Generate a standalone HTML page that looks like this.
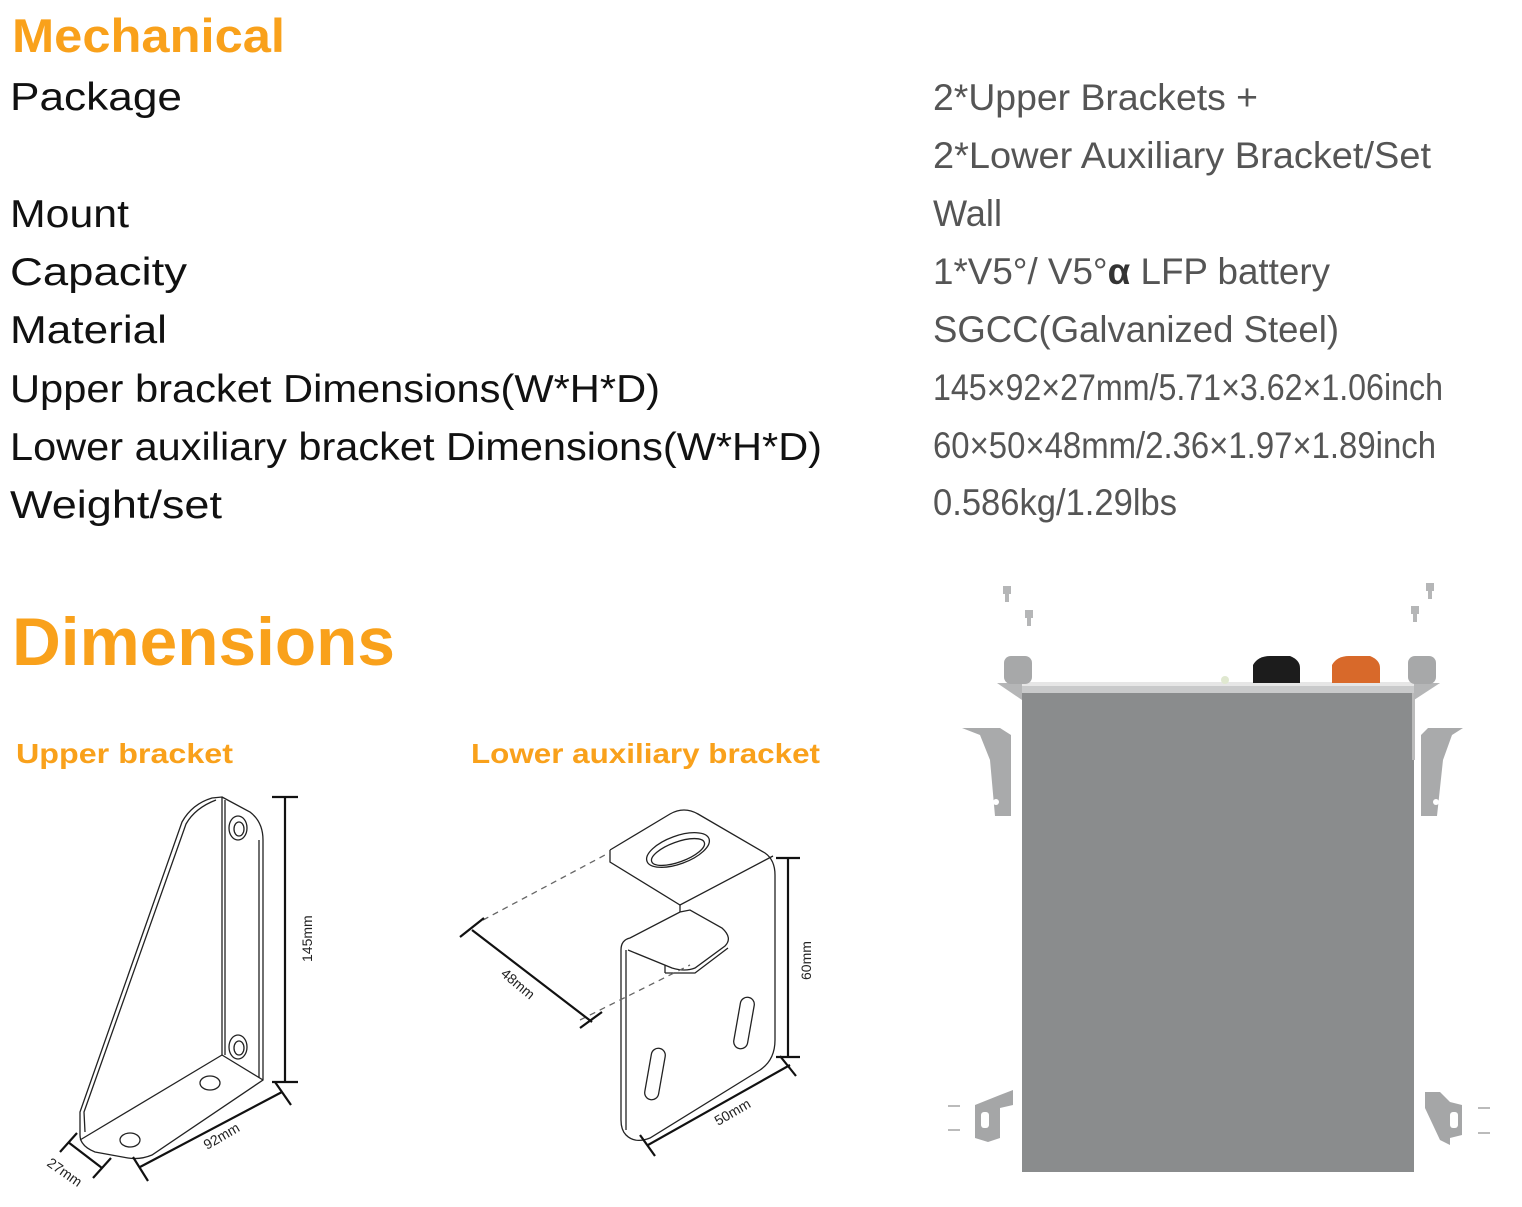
<!DOCTYPE html>
<html><head><meta charset="utf-8"><style>
html,body{margin:0;padding:0;background:#fff;width:1522px;height:1207px;overflow:hidden}
svg{display:block}
.o{fill:#F9A11B;font-family:"Liberation Sans",sans-serif;font-weight:bold}
.l{fill:#111;font-family:"Liberation Sans",sans-serif;font-size:39px}
.v{fill:#555;font-family:"Liberation Sans",sans-serif;font-size:37px}
.d{fill:#222;font-family:"Liberation Sans",sans-serif;font-size:14px}
.ln{fill:none;stroke:#222;stroke-width:1.3}
.dm{fill:none;stroke:#111;stroke-width:2.2}
</style></head><body>
<svg width="1522" height="1207" viewBox="0 0 1522 1207" xmlns="http://www.w3.org/2000/svg">
<text class="o" x="12" y="52" font-size="47" textLength="273" lengthAdjust="spacingAndGlyphs">Mechanical</text>
<text class="l" x="10" y="110" textLength="172" lengthAdjust="spacingAndGlyphs">Package</text>
<text class="l" x="10" y="227" textLength="119" lengthAdjust="spacingAndGlyphs">Mount</text>
<text class="l" x="10" y="285" textLength="177" lengthAdjust="spacingAndGlyphs">Capacity</text>
<text class="l" x="10" y="343" textLength="157" lengthAdjust="spacingAndGlyphs">Material</text>
<text class="l" x="10" y="402" textLength="650" lengthAdjust="spacingAndGlyphs">Upper bracket Dimensions(W*H*D)</text>
<text class="l" x="10" y="460" textLength="812" lengthAdjust="spacingAndGlyphs">Lower auxiliary bracket Dimensions(W*H*D)</text>
<text class="l" x="10" y="518" textLength="212" lengthAdjust="spacingAndGlyphs">Weight/set</text>

<text class="v" x="933" y="110" textLength="325" lengthAdjust="spacingAndGlyphs">2*Upper Brackets +</text>
<text class="v" x="933" y="168" textLength="498" lengthAdjust="spacingAndGlyphs">2*Lower Auxiliary Bracket/Set</text>
<text class="v" x="933" y="226" textLength="69" lengthAdjust="spacingAndGlyphs">Wall</text>
<text class="v" x="933" y="284" textLength="397" lengthAdjust="spacingAndGlyphs">1*V5°/ V5°<tspan font-weight="bold" fill="#333">α</tspan> LFP battery</text>
<text class="v" x="933" y="342" textLength="406" lengthAdjust="spacingAndGlyphs">SGCC(Galvanized Steel)</text>
<text class="v" x="933" y="400" textLength="510" lengthAdjust="spacingAndGlyphs">145×92×27mm/5.71×3.62×1.06inch</text>
<text class="v" x="933" y="458" textLength="503" lengthAdjust="spacingAndGlyphs">60×50×48mm/2.36×1.97×1.89inch</text>
<text class="v" x="933" y="515" textLength="244" lengthAdjust="spacingAndGlyphs">0.586kg/1.29lbs</text>

<text class="o" x="12" y="665" font-size="68" textLength="383" lengthAdjust="spacingAndGlyphs">Dimensions</text>
<text class="o" x="16" y="763" font-size="28" textLength="217" lengthAdjust="spacingAndGlyphs">Upper bracket</text>
<text class="o" x="471" y="763" font-size="28" textLength="349" lengthAdjust="spacingAndGlyphs">Lower auxiliary bracket</text>

<!-- Upper bracket -->
<g class="ln">
<path d="M222,797 L250,812 Q263,822 263,840 L263,1080 L152,1155 Q140,1160 128,1158 L95,1152 Q80,1146 80,1135 L80,1112 L182,822 Q192,804 212,798 Z"/>
<path d="M85,1132 L84,1112 L186,824 Q195,808 216,800"/>
<line x1="222" y1="797" x2="222" y2="1055"/>
<line x1="225" y1="800" x2="225" y2="1055"/>
<line x1="222" y1="1055" x2="80" y2="1140"/>
<line x1="222" y1="1055" x2="263" y2="1080"/>
<line x1="259" y1="840" x2="259" y2="1078"/>
<ellipse cx="238" cy="828" rx="9" ry="12"/><ellipse cx="239" cy="829" rx="5" ry="7"/>
<ellipse cx="238" cy="1047" rx="9" ry="12"/><ellipse cx="239" cy="1048" rx="5" ry="7"/>
<ellipse cx="210" cy="1083" rx="10" ry="7"/>
<ellipse cx="130" cy="1140" rx="10" ry="7"/>
</g>
<g class="dm">
<line x1="285" y1="797" x2="285" y2="1082"/><line x1="272" y1="797" x2="298" y2="797"/><line x1="272" y1="1082" x2="298" y2="1082"/>
<line x1="140" y1="1167" x2="282" y2="1092"/><line x1="133" y1="1157" x2="148" y2="1181"/><line x1="275" y1="1082" x2="291" y2="1105"/>
<line x1="68" y1="1142" x2="102" y2="1168"/><line x1="60" y1="1152" x2="77" y2="1133"/><line x1="93" y1="1178" x2="111" y2="1158"/>
</g>
<text class="d" transform="translate(312,962) rotate(-90)">145mm</text>
<text class="d" transform="translate(207,1150) rotate(-30)">92mm</text>
<text class="d" transform="translate(46,1165) rotate(35)">27mm</text>

<!-- Lower auxiliary bracket -->
<g class="ln">
<path d="M610,850 L670,814 Q684,806 698,814 L765,853 Q775,860 775,875 L775,1040 Q775,1060 760,1070 L650,1138 Q635,1144 626,1135 Q621,1130 621,1120 L621,950 Q621,940 630,938 L680,912 L690,910 L722,928 Q733,938 725,946 L695,968 Q685,972 672,968 L628,950"/>
<path d="M610,850 L610,862 L680,905 L773,856"/>
<line x1="680" y1="905" x2="680" y2="912"/>
<line x1="626" y1="950" x2="626" y2="1130"/>
<line x1="665" y1="965" x2="665" y2="973"/>
<path d="M665,973 L695,973 L728,948"/>
<ellipse cx="678" cy="850" rx="33" ry="14" transform="rotate(-20 678 850)"/>
<ellipse cx="678" cy="852" rx="28" ry="10" transform="rotate(-20 678 852)"/>
<rect x="737" y="997" width="14" height="52" rx="7" transform="rotate(10 744 1023)"/>
<rect x="648" y="1048" width="14" height="52" rx="7" transform="rotate(10 655 1074)"/>
</g>
<g stroke="#666" stroke-width="1.3" stroke-dasharray="6,5" fill="none">
<line x1="483" y1="920" x2="605" y2="855"/>
<line x1="580" y1="1020" x2="690" y2="965"/>
</g>
<g class="dm">
<line x1="472" y1="930" x2="592" y2="1022"/><line x1="460" y1="937" x2="484" y2="918"/><line x1="580" y1="1028" x2="602" y2="1012"/>
<line x1="788" y1="858" x2="788" y2="1057"/><line x1="776" y1="858" x2="800" y2="858"/><line x1="776" y1="1057" x2="800" y2="1057"/>
<line x1="648" y1="1145" x2="790" y2="1065"/><line x1="640" y1="1135" x2="655" y2="1156"/><line x1="780" y1="1056" x2="796" y2="1076"/>
</g>
<text class="d" transform="translate(500,975) rotate(40)">48mm</text>
<text class="d" transform="translate(811,980) rotate(-90)">60mm</text>
<text class="d" transform="translate(718,1126) rotate(-30)">50mm</text>

<!-- Battery -->
<rect x="1022" y="690" width="392" height="482" fill="#8a8c8d"/>
<rect x="1412" y="690" width="3" height="70" fill="#bbb"/>
<polygon points="1000,683 1440,683 1418,693 1022,693" fill="#c9cacb"/>
<rect x="1022" y="682" width="392" height="4" fill="#e6e6e6"/>
<polygon points="997,683 1022,683 1022,700" fill="#b5b6b7"/>
<polygon points="1440,683 1414,683 1414,700" fill="#b5b6b7"/>
<rect x="1004" y="656" width="28" height="28" rx="7" fill="#a7a8a9"/>
<rect x="1408" y="656" width="28" height="28" rx="7" fill="#a7a8a9"/>
<path d="M1253,683 L1253,665 Q1258,656 1270,656 L1290,656 Q1300,660 1300,668 L1300,683 Z" fill="#1c1c1c"/>
<path d="M1332,683 L1332,665 Q1337,656 1349,656 L1370,656 Q1380,660 1380,668 L1380,683 Z" fill="#d8692a"/>
<circle cx="1225" cy="680" r="4" fill="#e0e8d0"/>
<!-- screws -->
<g fill="#b5b6b7">
<rect x="1003" y="586" width="8" height="8"/><rect x="1005" y="594" width="4" height="8"/>
<rect x="1025" y="610" width="8" height="8"/><rect x="1027" y="618" width="4" height="8"/>
<rect x="1426" y="583" width="8" height="8"/><rect x="1428" y="591" width="4" height="8"/>
<rect x="1411" y="606" width="8" height="8"/><rect x="1413" y="614" width="4" height="8"/>
</g>
<!-- side brackets -->
<polygon points="962,728 1000,728 1011,735 1011,816 995,816 990,760 980,735" fill="#a9aaab"/>
<circle cx="996" cy="802" r="3" fill="#fff"/>
<polygon points="1463,728 1428,728 1421,735 1421,816 1437,816 1443,760 1452,735" fill="#a9aaab"/>
<circle cx="1436" cy="802" r="3" fill="#fff"/>
<polygon points="975,1105 1000,1095 1013,1090 1013,1105 1000,1108 1000,1138 988,1142 975,1138" fill="#a5a6a7"/>
<rect x="981" y="1112" width="8" height="16" rx="3" fill="#fff"/>
<polygon points="1425,1092 1440,1092 1450,1102 1462,1105 1462,1135 1450,1138 1450,1145 1440,1140 1425,1108" fill="#a5a6a7"/>
<rect x="1450" y="1112" width="8" height="16" rx="3" fill="#fff"/>
<g stroke="#bbb" stroke-width="2"><line x1="948" y1="1106" x2="960" y2="1106"/><line x1="948" y1="1130" x2="960" y2="1130"/><line x1="1478" y1="1108" x2="1490" y2="1108"/><line x1="1478" y1="1133" x2="1490" y2="1133"/></g>
</svg>
</body></html>
